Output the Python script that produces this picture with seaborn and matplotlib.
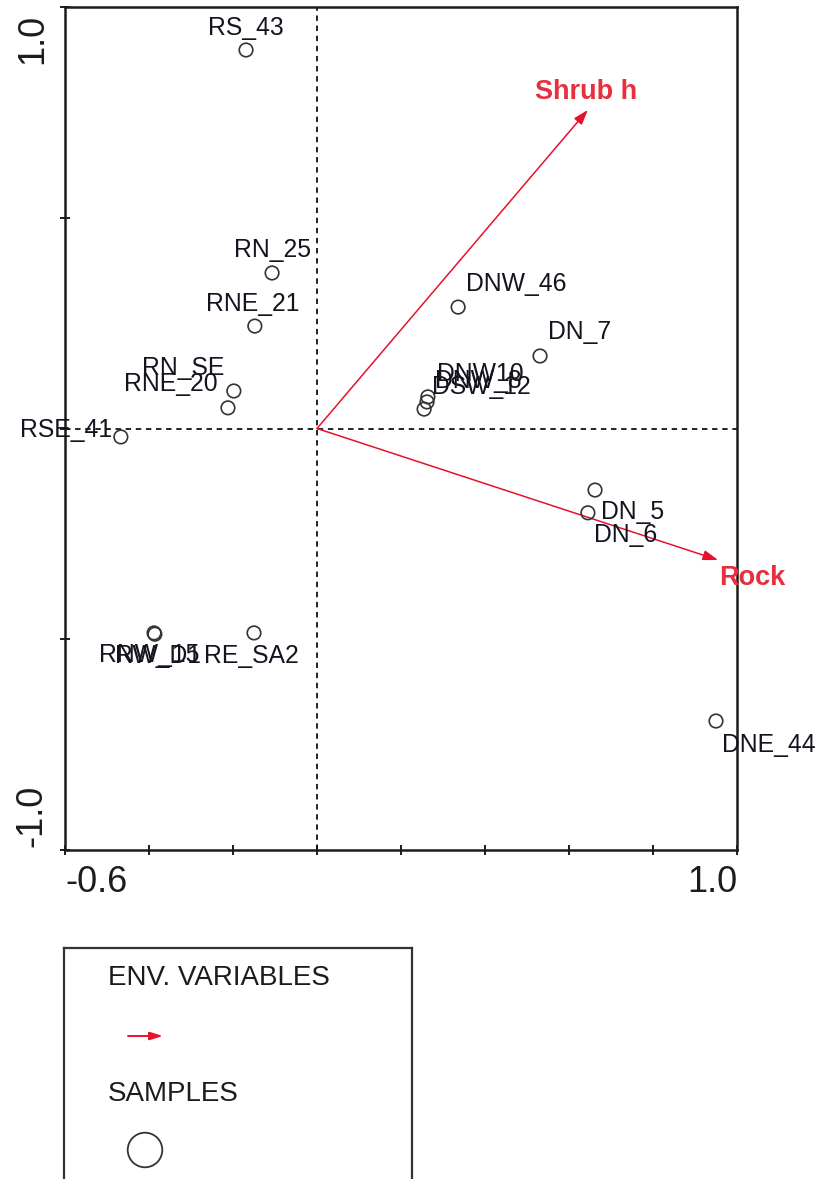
import matplotlib
matplotlib.use("Agg")
import matplotlib.pyplot as plt
import seaborn as sns
import pandas as pd

# Sample scores on the first two ordination axes
sample_names = ["RS_43", "RN_25", "RNE_21", "RN_SE", "RNE_20", "RSE_41",
                "RNW_15", "RW_D1", "RE_SA2", "DNW_46", "DN_7", "DNW10",
                "DNW_8", "DSW_12", "DN_5", "DN_6", "DNE_44"]
axis1 = [-0.169, -0.107, -0.148, -0.198, -0.212, -0.467,
         -0.388, -0.386, -0.150, 0.336, 0.531, 0.264,
         0.262, 0.255, 0.662, 0.645, 0.950]
axis2 = [0.898, 0.369, 0.243, 0.089, 0.049, -0.020,
         -0.485, -0.488, -0.485, 0.288, 0.172, 0.075,
         0.063, 0.046, -0.146, -0.200, -0.694]

# Environmental variable biplot arrows
env_names = ["Shrub h", "Rock"]
env_axis1 = [0.645, 0.955]
env_axis2 = [0.756, -0.312]

x_ticks = [-0.6, -0.4, -0.2, 0.0, 0.2, 0.4, 0.6, 0.8, 1.0]
y_ticks = [-1.0, -0.5, 0.0, 0.5, 1.0]

# label placement for each sample: (ha, dx px, dy px)
label_place = {
    "RS_43": ("center", 0, 22), "RN_25": ("center", 0, 23),
    "RNE_21": ("center", -2, 22), "RN_SE": ("right", -9, 23),
    "RNE_20": ("right", -10, 24), "RSE_41": ("right", -9, 7),
    "RNW_15": ("center", -5, -22), "RW_D1": ("center", 3, -22),
    "RE_SA2": ("center", -3, -23), "DNW_46": ("left", 8, 23),
    "DN_7": ("left", 8, 24), "DNW10": ("left", 9, 23),
    "DNW_8": ("left", 8, 21), "DSW_12": ("left", 8, 22),
    "DN_5": ("left", 6, -22), "DN_6": ("left", 6, -22),
    "DNE_44": ("left", 6, -24),
}

sns.set_style("white")
plt.rcParams["font.family"] = ["Liberation Sans", "DejaVu Sans"]

W, H = 818, 1179
fig = plt.figure(figsize=(W / 100, H / 100), dpi=100)
ax = fig.add_axes([65 / W, (H - 850) / H, 672 / W, 843 / H])

ink = "#1c1c1c"
red = "#e8112d"
red_txt = "#e6303d"
PT = 0.72  # points per pixel at 100 dpi

df = pd.DataFrame({"name": sample_names, "ax1": axis1, "ax2": axis2})
sns.scatterplot(data=df, x="ax1", y="ax2", ax=ax, marker="o", s=95,
                facecolors="none", edgecolor="#333333", linewidth=1.2,
                zorder=3, legend=False)

for name, x, y in zip(sample_names, axis1, axis2):
    ha, dx, dy = label_place[name]
    ax.annotate(name, xy=(x, y), xytext=(dx * PT, dy * PT),
                textcoords="offset points", ha=ha, va="center",
                fontsize=17.8, color="#141420", zorder=4)

# reference lines through the origin
ax.axhline(0, color="#111111", lw=1.3, ls=(0, (3, 2.6)), zorder=1)
ax.axvline(0, color="#111111", lw=1.3, ls=(0, (3, 2.6)), zorder=1)

# environmental arrows
env_label_off = {"Shrub h": (-2, 18), "Rock": (34, -18)}
for name, x, y in zip(env_names, env_axis1, env_axis2):
    ax.annotate("", xy=(x, y), xytext=(0, 0),
                arrowprops=dict(arrowstyle="-|>,head_length=0.45,head_width=0.15",
                                color=red, lw=1.1,
                                mutation_scale=20, shrinkA=0, shrinkB=0),
                zorder=2)
    dx, dy = env_label_off[name]
    ax.annotate(name, xy=(x, y), xytext=(dx * PT, dy * PT),
                textcoords="offset points", ha="center", va="center",
                fontsize=19.5, fontweight="bold", color=red_txt)

ax.set_xlim(-0.6, 1.0)
ax.set_ylim(-1.0, 1.0)
ax.set_xticks(x_ticks)
ax.set_yticks(y_ticks)
ax.set_xticklabels([])
ax.set_yticklabels([])
ax.set_xlabel("")
ax.set_ylabel("")
ax.tick_params(axis="both", direction="inout", length=7, width=1.4,
               color=ink, bottom=True, left=True)
for sp in ax.spines.values():
    sp.set_visible(True)
    sp.set_color(ink)
    sp.set_linewidth(1.8)

# end tick labels only
ax.annotate("-0.6", xy=(x_ticks[0], 0), xycoords=("data", "axes fraction"),
            xytext=(0, -42 * PT), textcoords="offset points",
            ha="left", va="baseline", fontsize=26, color=ink)
ax.annotate("1.0", xy=(x_ticks[-1], 0), xycoords=("data", "axes fraction"),
            xytext=(0, -42 * PT), textcoords="offset points",
            ha="right", va="baseline", fontsize=26, color=ink)
ax.annotate("1.0", xy=(0, y_ticks[-1]), xycoords=("axes fraction", "data"),
            xytext=(-32 * PT, -7 * PT), textcoords="offset points",
            ha="center", va="top", rotation=90, fontsize=26, color=ink)
ax.annotate("-1.0", xy=(0, y_ticks[0]), xycoords=("axes fraction", "data"),
            xytext=(-33 * PT, 3 * PT), textcoords="offset points",
            ha="center", va="bottom", rotation=90, fontsize=26, color=ink)

# key box below the plot
lg = fig.add_axes([64 / W, 0, (412 - 64) / W, (H - 948) / H])
lg.set_xlim(0, 412 - 64)
lg.set_ylim(0, H - 948)
lg.set_xticks([])
lg.set_yticks([])
lg.patch.set_alpha(0)
for side, sp in lg.spines.items():
    sp.set_visible(side != "bottom")
    sp.set_color("#333333")
    sp.set_linewidth(1.6)

lg.text(44, H - 978, "ENV. VARIABLES", ha="left", va="center",
        fontsize=20, color=ink)
lg.annotate("", xy=(99, H - 1036), xytext=(64, H - 1036),
            arrowprops=dict(arrowstyle="-|>,head_length=0.55,head_width=0.17",
                            color=red, lw=1.4,
                            mutation_scale=14, shrinkA=0, shrinkB=0))
lg.text(44, H - 1094, "SAMPLES", ha="left", va="center",
        fontsize=20, color=ink)
lg.scatter([81], [H - 1150], s=620, facecolors="none",
           edgecolors="#333333", linewidths=1.3, clip_on=False)

fig.savefig("out.png", dpi=100)
